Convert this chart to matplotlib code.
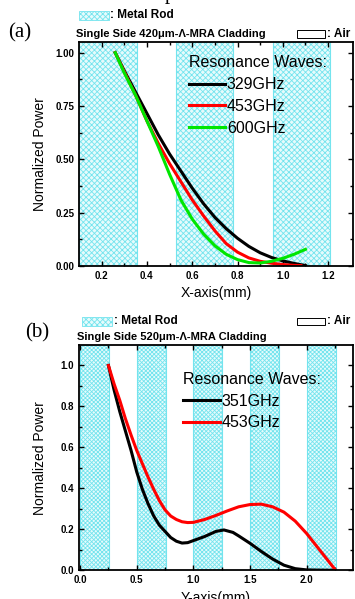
import numpy as np
import matplotlib
matplotlib.use('Agg')
import matplotlib.pyplot as plt
from matplotlib.patches import Rectangle

plt.rcParams['font.family'] = ['Liberation Sans', 'DejaVu Sans']
plt.rcParams['hatch.linewidth'] = 0.6

# ---- panel (a) data ----
xa_black = [0.26, 0.30, 0.35, 0.40, 0.45, 0.50, 0.55, 0.60, 0.65, 0.70, 0.75, 0.80, 0.85, 0.90, 0.95, 1.00, 1.05, 1.10]
ya_black = [1.00, 0.915, 0.815, 0.715, 0.615, 0.525, 0.445, 0.365, 0.292, 0.228, 0.175, 0.130, 0.092, 0.062, 0.040, 0.024, 0.012, 0.002]
xa_red = [0.26, 0.30, 0.35, 0.40, 0.45, 0.50, 0.55, 0.60, 0.65, 0.70, 0.75, 0.80, 0.85, 0.90, 0.95, 1.00, 1.05, 1.08]
ya_red = [1.00, 0.91, 0.80, 0.68, 0.575, 0.48, 0.395, 0.31, 0.235, 0.165, 0.105, 0.065, 0.038, 0.022, 0.013, 0.007, 0.003, 0.002]
xa_green = [0.26, 0.30, 0.35, 0.40, 0.45, 0.50, 0.55, 0.60, 0.65, 0.70, 0.75, 0.80, 0.85, 0.90, 0.95, 1.00, 1.05, 1.10]
ya_green = [1.00, 0.905, 0.80, 0.68, 0.56, 0.43, 0.31, 0.22, 0.15, 0.095, 0.055, 0.03, 0.016, 0.014, 0.022, 0.036, 0.055, 0.078]
rods_a = [0.1, 0.527, 0.955]
rod_w_a = 0.254

# ---- panel (b) data ----
xb_black = [0.25, 0.30, 0.35, 0.40, 0.45, 0.50, 0.55, 0.60, 0.65, 0.70, 0.75, 0.80, 0.85, 0.90, 0.95, 1.00, 1.10, 1.20, 1.27,
            1.35, 1.40, 1.50, 1.60, 1.70, 1.80, 1.90, 2.00, 2.10, 2.25]
yb_black = [1.00, 0.88, 0.775, 0.68, 0.585, 0.48, 0.395, 0.325, 0.265, 0.22, 0.19, 0.16, 0.142, 0.133, 0.135, 0.145, 0.165, 0.19, 0.197,
            0.185, 0.168, 0.132, 0.092, 0.055, 0.025, 0.008, 0.002, 0.001, 0.0]
xb_red = [0.25, 0.30, 0.35, 0.40, 0.45, 0.50, 0.55, 0.60, 0.65, 0.70, 0.75, 0.80, 0.85, 0.90, 0.95, 1.00, 1.10, 1.20, 1.30,
          1.40, 1.50, 1.60, 1.70, 1.80, 1.90, 2.00, 2.10, 2.20, 2.25]
yb_red = [1.00, 0.91, 0.83, 0.74, 0.66, 0.585, 0.52, 0.455, 0.395, 0.34, 0.295, 0.265, 0.248, 0.237, 0.233, 0.234, 0.248, 0.268, 0.29,
          0.31, 0.321, 0.323, 0.31, 0.284, 0.24, 0.18, 0.11, 0.04, 0.005]
rods_b = [0.0, 0.5, 1.0, 1.5, 2.0]
rod_w_b = 0.256

W, H = 355, 599
fig = plt.figure(figsize=(W / 100, H / 100), dpi=100)


def fx(px):
    return px / W


def fy(py):
    return 1 - py / H


rod_face = '#e6fbfc'
rod_edge = '#74e4ee'


def style_axes(ax):
    ax.tick_params(which='both', direction='in', top=True, right=True, labelsize=7, width=1.0)
    ax.tick_params(which='major', length=3.5)
    ax.tick_params(which='minor', length=2)
    for lab in ax.get_xticklabels() + ax.get_yticklabels():
        lab.set_fontweight('bold')
    for s in ax.spines.values():
        s.set_linewidth(1.3)


leg_kw = dict(loc='upper left', frameon=False, fontsize=11.5, title_fontsize=11.5, handlelength=2.3,
              handletextpad=0.1, labelspacing=0.42, borderpad=0, borderaxespad=0, alignment='left')

# ---------------- panel (a) ----------------
axa = fig.add_axes([fx(79), fy(266), fx(353) - fx(79), fy(42) - fy(266)])
for r in rods_a:
    axa.axvspan(r, r + rod_w_a, facecolor=rod_face, edgecolor=rod_edge, hatch='xxxxxx', lw=0.8, zorder=0)
axa.plot(xa_black, ya_black, color='black', lw=2.2, label='329GHz')
axa.plot(xa_red, ya_red, color='#ff0000', lw=2.2, label='453GHz')
axa.plot(xa_green, ya_green, color='#00e600', lw=2.2, label='600GHz')
axa.set_xlim(0.1, 1.31)
axa.set_ylim(0, 1.05)
axa.set_xticks([0.2, 0.4, 0.6, 0.8, 1.0, 1.2])
axa.set_xticks([0.3, 0.5, 0.7, 0.9, 1.1], minor=True)
axa.set_yticks([0, 0.25, 0.5, 0.75, 1.0])
axa.set_yticklabels(['0.00', '0.25', '0.50', '0.75', '1.00'])
axa.set_yticks([0.125, 0.375, 0.625, 0.875], minor=True)
axa.set_xticklabels(['0.2', '0.4', '0.6', '0.8', '1.0', '1.2'])
style_axes(axa)
axa.set_xlabel('X-axis(mm)', fontsize=10, labelpad=4)
axa.set_ylabel('Normalized Power', fontsize=10, labelpad=6)
axa.legend(title='Resonance Waves:', bbox_to_anchor=(0.4, 0.94), **leg_kw)

# ---------------- panel (b) ----------------
axb = fig.add_axes([fx(79), fy(570.3), fx(353) - fx(79), fy(345) - fy(570.3)])
for r in rods_b:
    axb.axvspan(r, r + rod_w_b, facecolor=rod_face, edgecolor=rod_edge, hatch='xxxxxxxx', lw=0.8, zorder=0)
axb.plot(xb_black, yb_black, color='black', lw=2.2, label='351GHz')
axb.plot(xb_red, yb_red, color='#ff0000', lw=2.2, label='453GHz')
axb.set_xlim(-0.01, 2.41)
axb.set_ylim(0, 1.1)
axb.set_xticks([0.0, 0.5, 1.0, 1.5, 2.0])
axb.set_xticklabels(['0.0', '0.5', '1.0', '1.5', '2.0'])
axb.set_xticks([0.25, 0.75, 1.25, 1.75, 2.25], minor=True)
axb.set_yticks([0.0, 0.2, 0.4, 0.6, 0.8, 1.0])
axb.set_yticklabels(['0.0', '0.2', '0.4', '0.6', '0.8', '1.0'])
axb.set_yticks([0.1, 0.3, 0.5, 0.7, 0.9], minor=True)
style_axes(axb)
axb.set_xlabel('Y-axis(mm)', fontsize=10, labelpad=4)
axb.set_ylabel('Normalized Power', fontsize=10, labelpad=10)
axb.legend(title='Resonance Waves:', bbox_to_anchor=(0.38, 0.88), **leg_kw)

# ---------------- annotations above panels ----------------
serif = ['Liberation Serif', 'DejaVu Serif']
fig.text(fx(165), fy(-1), 'p', family=serif, fontsize=15, va='baseline')
fig.text(fx(8), fy(33), '(a)', family=serif, fontsize=15, va='center')
fig.text(fx(25), fy(333), '(b)', family=serif, fontsize=15, va='center')

fig.text(fx(76), fy(34), 'Single Side 420\u03bcm-\u039b-MRA Cladding', fontsize=8, fontweight='bold', va='center')
fig.text(fx(77), fy(337), 'Single Side 520\u03bcm-\u039b-MRA Cladding', fontsize=8, fontweight='bold', va='center')


def rod_key(x0, y0, x1, y1):
    fig.patches.append(Rectangle((fx(x0), fy(y1)), fx(x1) - fx(x0), fy(y0) - fy(y1), transform=fig.transFigure,
                                 facecolor=rod_face, edgecolor=rod_edge, hatch='xxxxxx', lw=0.6))


def air_key(x0, y0, x1, y1):
    fig.patches.append(Rectangle((fx(x0), fy(y1)), fx(x1) - fx(x0), fy(y0) - fy(y1), transform=fig.transFigure,
                                 facecolor='white', edgecolor='black', lw=0.7))


rod_key(79, 11, 109, 20)
fig.text(fx(110), fy(15.5), ': Metal Rod', fontsize=8.5, fontweight='bold', va='center')
air_key(297, 30, 325, 38)
fig.text(fx(327), fy(34), ': Air', fontsize=8.5, fontweight='bold', va='center')

rod_key(82, 317, 112, 326)
fig.text(fx(114), fy(321.5), ': Metal Rod', fontsize=8.5, fontweight='bold', va='center')
air_key(297, 318, 325, 325)
fig.text(fx(327), fy(321.5), ': Air', fontsize=8.5, fontweight='bold', va='center')

fig.savefig('out.png', dpi=100)
